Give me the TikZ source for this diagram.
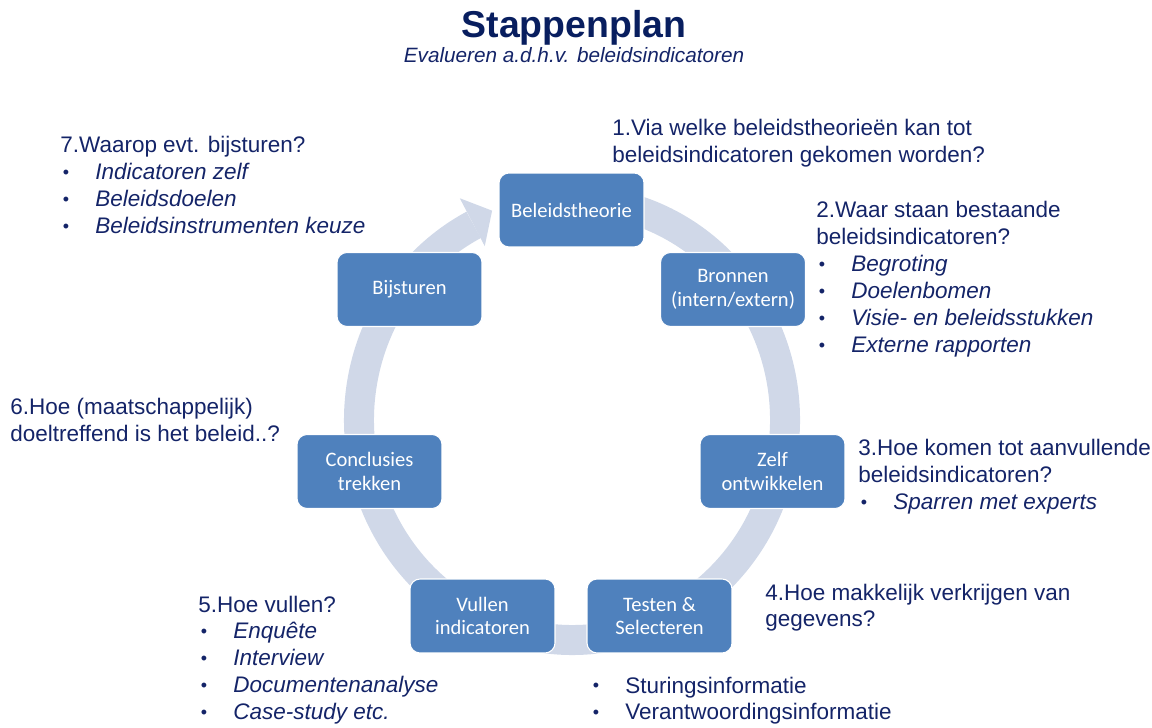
\documentclass[tikz,border=0pt]{standalone}
\usepackage{fontspec}
\setmainfont{Liberation Sans}
\newfontfamily\boxfont{Carlito}
\usepackage{xcolor}
\definecolor{stapblauw}{RGB}{79,129,189}
\definecolor{ringgrijs}{RGB}{208,216,232}
\definecolor{donkerblauw}{RGB}{20,36,104}
\definecolor{titelblauw}{RGB}{8,30,95}
\newcommand{\bol}{\makebox[0.7cm][l]{\hspace{1.5pt}\raisebox{0.08em}{\scalebox{0.8}{\textbullet}}}}
\newcommand{\itm}[1]{\bol\textit{#1}}
\newcommand{\pnt}[1]{\bol#1}

\begin{document}
\begin{tikzpicture}[x=0.02cm, y=0.02cm,
    stap/.style={rectangle, draw=white, line width=0.6pt, rounded corners=0.2cm,
      fill=stapblauw, minimum width=2.9cm, minimum height=1.48cm, text=white,
      align=center, inner sep=2pt, font=\boxfont\fontsize{11.7}{13.5}\selectfont},
    vraag/.style={anchor=base west, inner sep=0pt, text=donkerblauw,
      font=\fontsize{12.8}{15.35}\selectfont},
    ring/.style={draw=ringgrijs, line width=0.6cm}]
      \useasboundingbox (0,0) rectangle (1152,727);

      \node (titel) [anchor=base, inner sep=0pt, text=titelblauw,
        font=\bfseries\fontsize{21.3}{24}\selectfont] at (574, 689) {Stappenplan};
      \node (sub) [anchor=base, inner sep=0pt, text=donkerblauw,
        font=\itshape\fontsize{11.8}{14}\selectfont] at (574, 664)
        {Evalueren a.d.h.v. beleidsindicatoren};

      \coordinate (mid) at (572, 307);
      \draw[ring] ([shift={(80:213 and 220)}]mid)
        arc[start angle=80, end angle=-242.5, x radius=213, y radius=220];
      \fill[ringgrijs] ([shift={(117.5:189 and 196)}]mid)
        -- ([shift={(117.5:243 and 250)}]mid)
        -- ([shift={(111.5:218 and 225)}]mid) -- cycle;

      \node (theorie) [stap] at (571.5, 517) {Beleidstheorie};
      \node (bronnen) [stap] at (733, 437.5) {Bronnen\\(intern/extern)};
      \node (zelf) [stap] at (772.5, 255.5) {Zelf\\ontwikkelen};
      \node (testen) [stap] at (659.5, 111) {Testen \&\\Selecteren};
      \node (vullen) [stap] at (482.5, 111) {Vullen\\indicatoren};
      \node (concl) [stap] at (369.5, 255.5) {Conclusies\\trekken};
      \node (bijst) [stap] at (409.5, 437.5) {Bijsturen};

      \node (q1) [vraag] at (612, 591) {
        \begin{tabular}[t]{@{}l@{}}
          1.Via welke beleidstheorieën kan tot\\
          beleidsindicatoren gekomen worden?
        \end{tabular}
      };
      \node (q2) [vraag] at (816, 509) {
        \begin{tabular}[t]{@{}l@{}}
          2.Waar staan bestaande\\
          beleidsindicatoren?\\
          \itm{Begroting}\\
          \itm{Doelenbomen}\\
          \itm{Visie- en beleidsstukken}\\
          \itm{Externe rapporten}
        \end{tabular}
      };
      \node (q3) [vraag] at (858, 271) {
        \begin{tabular}[t]{@{}l@{}}
          3.Hoe komen tot aanvullende\\
          beleidsindicatoren?\\
          \itm{Sparren met experts}
        \end{tabular}
      };
      \node (q4) [vraag] at (765, 127) {
        \begin{tabular}[t]{@{}l@{}}
          4.Hoe makkelijk verkrijgen van\\
          gegevens?
        \end{tabular}
      };
      \node (q4b) [vraag] at (590, 34) {
        \begin{tabular}[t]{@{}l@{}}
          \pnt{Sturingsinformatie}\\
          \pnt{Verantwoordingsinformatie}
        \end{tabular}
      };
      \node (q5) [vraag] at (198, 115) {
        \begin{tabular}[t]{@{}l@{}}
          5.Hoe vullen?\\
          \itm{Enquête}\\
          \itm{Interview}\\
          \itm{Documentenanalyse}\\
          \itm{Case-study etc.}
        \end{tabular}
      };
      \node (q6) [vraag] at (10, 312) {
        \begin{tabular}[t]{@{}l@{}}
          6.Hoe (maatschappelijk)\\
          doeltreffend is het beleid..?
        \end{tabular}
      };
      \node (q7) [vraag] at (60, 574) {
        \begin{tabular}[t]{@{}l@{}}
          7.Waarop evt. bijsturen?\\
          \itm{Indicatoren zelf}\\
          \itm{Beleidsdoelen}\\
          \itm{Beleidsinstrumenten keuze}
        \end{tabular}
      };
    \end{tikzpicture}
\end{document}
